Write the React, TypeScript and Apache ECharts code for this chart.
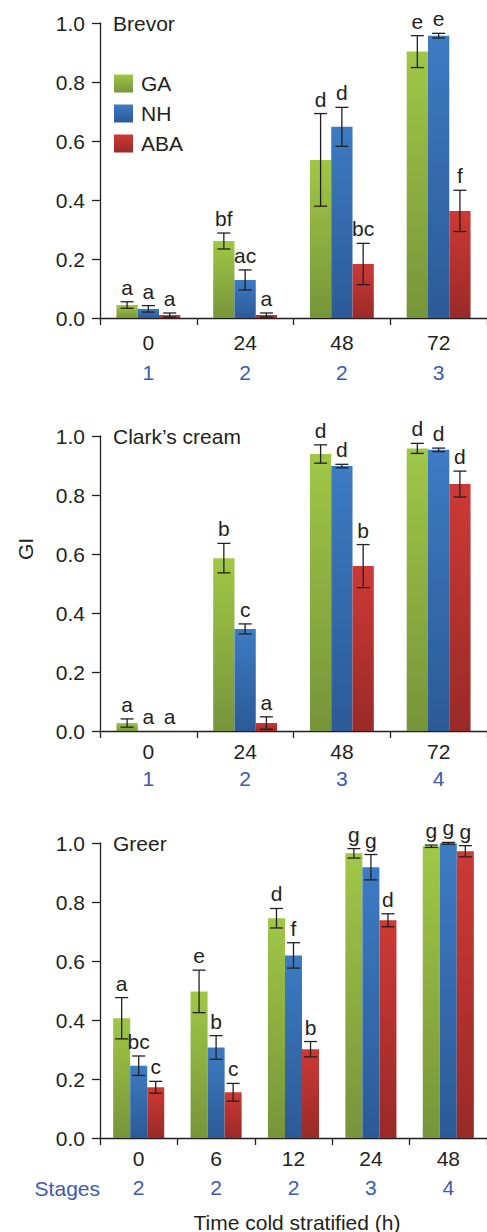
import React, { useEffect, useRef } from "react";
import * as echarts from "echarts";

// ---------- DATA ----------
const seriesNames = ["GA", "NH", "ABA"];

const brevorCats = ["0", "24", "48", "72"];
const brevorStages = ["1", "2", "2", "3"];
const brevorGA = [0.044, 0.261, 0.536, 0.903];
const brevorGAErr = [0.011, 0.027, 0.157, 0.054];
const brevorNH = [0.031, 0.129, 0.648, 0.957];
const brevorNHErr = [0.011, 0.034, 0.066, 0.008];
const brevorABA = [0.01, 0.01, 0.183, 0.363];
const brevorABAErr = [0.007, 0.007, 0.07, 0.07];
const brevorLetters = [
  ["a", "bf", "d", "e"],
  ["a", "ac", "d", "e"],
  ["a", "a", "bc", "f"],
];

const clarkCats = ["0", "24", "48", "72"];
const clarkStages = ["1", "2", "3", "4"];
const clarkGA = [0.027, 0.586, 0.939, 0.958];
const clarkGAErr = [0.014, 0.05, 0.031, 0.017];
const clarkNH = [0, 0.346, 0.898, 0.953];
const clarkNHErr = [0, 0.017, 0.006, 0.006];
const clarkABA = [0, 0.027, 0.559, 0.837];
const clarkABAErr = [0, 0.021, 0.073, 0.044];
const clarkLetters = [
  ["a", "b", "d", "d"],
  ["a", "c", "d", "d"],
  ["a", "a", "b", "d"],
];

const greerCats = ["0", "6", "12", "24", "48"];
const greerStages = ["2", "2", "2", "3", "4"];
const greerGA = [0.406, 0.497, 0.745, 0.965, 0.989];
const greerGAErr = [0.07, 0.072, 0.033, 0.016, 0.004];
const greerNH = [0.245, 0.307, 0.619, 0.918, 0.999];
const greerNHErr = [0.033, 0.04, 0.043, 0.043, 0.003];
const greerABA = [0.172, 0.155, 0.301, 0.738, 0.972];
const greerABAErr = [0.02, 0.03, 0.026, 0.022, 0.019];
const greerLetters = [
  ["a", "e", "d", "g", "g"],
  ["bc", "b", "f", "g", "g"],
  ["c", "c", "b", "d", "g"],
];

// ---------- STYLE ----------
const FONT = "Liberation Sans, Arial, Helvetica, sans-serif";
const FS = 21;
const DARK = "#231f20";
const STAGE_BLUE = "#3b5ab0";
const GAP = 0.34;
const gradients = [
  ["#a0c746", "#76953a"],
  ["#3d7bc3", "#2c5a97"],
  ["#cd3a35", "#992a28"],
];
const grad = (c: string[]) =>
  new echarts.graphic.LinearGradient(0, 0, 0, 1, [
    { offset: 0, color: c[0] },
    { offset: 1, color: c[1] },
  ]);

type Panel = {
  title: string;
  cats: string[];
  stages: string[];
  vals: number[][];
  errs: number[][];
  letters: string[][];
  top: number;
  labelMargin: number;
  labelLH: number;
};

const panels: Panel[] = [
  {
    title: "Brevor",
    cats: brevorCats,
    stages: brevorStages,
    vals: [brevorGA, brevorNH, brevorABA],
    errs: [brevorGAErr, brevorNHErr, brevorABAErr],
    letters: brevorLetters,
    top: 23,
    labelMargin: 9,
    labelLH: 30,
  },
  {
    title: "Clark\u2019s cream",
    cats: clarkCats,
    stages: clarkStages,
    vals: [clarkGA, clarkNH, clarkABA],
    errs: [clarkGAErr, clarkNHErr, clarkABAErr],
    letters: clarkLetters,
    top: 436,
    labelMargin: 7,
    labelLH: 27,
  },
  {
    title: "Greer",
    cats: greerCats,
    stages: greerStages,
    vals: [greerGA, greerNH, greerABA],
    errs: [greerGAErr, greerNHErr, greerABAErr],
    letters: greerLetters,
    top: 843,
    labelMargin: 6,
    labelLH: 29,
  },
];

const GRID_LEFT = 100;
const GRID_H = 295;
const GRID_W = 393.3;

function buildOption() {
  const grid: any[] = [];
  const xAxis: any[] = [];
  const yAxis: any[] = [];
  const series: any[] = [];
  const graphic: any[] = [];

  panels.forEach((p, pi) => {
    grid.push({ left: GRID_LEFT, top: p.top, width: GRID_W, height: GRID_H });
    xAxis.push({
      type: "category",
      gridIndex: pi,
      data: p.cats,
      axisLine: { lineStyle: { color: DARK, width: 1.3 } },
      axisTick: { show: true, length: 7, lineStyle: { color: DARK, width: 1.3 } },
      axisLabel: {
        margin: p.labelMargin,
        formatter: (v: string, i: number) => `{a|${v}}\n{b|${p.stages[i]}}`,
        rich: {
          a: { fontSize: FS, fontFamily: FONT, color: DARK, lineHeight: p.labelLH },
          b: { fontSize: FS, fontFamily: FONT, color: STAGE_BLUE, lineHeight: p.labelLH },
        },
      },
      splitLine: { show: false },
    });
    yAxis.push({
      type: "value",
      gridIndex: pi,
      min: 0,
      max: 1,
      interval: 0.2,
      axisLine: { show: true, lineStyle: { color: DARK, width: 1.3 } },
      axisTick: { show: true, length: 8, lineStyle: { color: DARK, width: 1.3 } },
      axisLabel: {
        margin: 15,
        fontSize: FS,
        fontFamily: FONT,
        color: DARK,
        formatter: (v: number) => v.toFixed(1),
      },
      splitLine: { show: false },
    });

    seriesNames.forEach((name, si) => {
      series.push({
        name,
        type: "bar",
        xAxisIndex: pi,
        yAxisIndex: pi,
        data: p.vals[si],
        barGap: "0%",
        barCategoryGap: GAP * 100 + "%",
        itemStyle: { color: grad(gradients[si]) },
        z: 2,
      });
      series.push({
        type: "custom",
        xAxisIndex: pi,
        yAxisIndex: pi,
        z: 5,
        silent: true,
        data: p.vals[si].map((v, i) => [i, v, p.errs[si][i]]),
        renderItem: (params: any, api: any) => {
          const ci = api.value(0);
          const v = api.value(1);
          const e = api.value(2);
          const band = api.size([1, 0])[0];
          const bw = (band * (1 - GAP)) / 3;
          const cx = api.coord([ci, 0])[0] + (si - 1) * bw;
          const yTop = api.coord([ci, v + e])[1];
          const yBot = api.coord([ci, Math.max(v - e, 0)])[1];
          const children: any[] = [];
          const ls = { stroke: DARK, lineWidth: 1.3 };
          if (e > 0) {
            children.push(
              { type: "line", shape: { x1: cx, y1: yTop, x2: cx, y2: yBot }, style: ls },
              { type: "line", shape: { x1: cx - 6.5, y1: yTop, x2: cx + 6.5, y2: yTop }, style: ls },
              { type: "line", shape: { x1: cx - 6.5, y1: yBot, x2: cx + 6.5, y2: yBot }, style: ls }
            );
          }
          children.push({
            type: "text",
            x: cx,
            y: yTop - 4,
            style: {
              text: p.letters[si][params.dataIndex],
              fontSize: FS,
              fontFamily: FONT,
              fill: DARK,
              align: "center",
              verticalAlign: "bottom",
            },
          });
          return { type: "group", children };
        },
      });
    });

    graphic.push({
      type: "text",
      x: 113,
      y: p.top,
      style: {
        text: p.title,
        fontSize: FS,
        fontFamily: FONT,
        fill: DARK,
        verticalAlign: "middle",
      },
    });
  });

  graphic.push(
    {
      type: "text",
      x: 25,
      y: 549,
      rotation: Math.PI / 2,
      style: {
        text: "GI",
        fontSize: FS,
        fontFamily: FONT,
        fill: DARK,
        align: "center",
        verticalAlign: "middle",
      },
    },
    {
      type: "text",
      x: 100,
      y: 1188,
      style: {
        text: "Stages",
        fontSize: FS,
        fontFamily: FONT,
        fill: STAGE_BLUE,
        align: "right",
        verticalAlign: "middle",
      },
    },
    {
      type: "text",
      x: 297,
      y: 1222,
      style: {
        text: "Time cold stratified (h)",
        fontSize: FS,
        fontFamily: FONT,
        fill: DARK,
        align: "center",
        verticalAlign: "middle",
      },
    }
  );

  return {
    animation: false,
    backgroundColor: "#ffffff",
    grid,
    xAxis,
    yAxis,
    series,
    graphic,
    legend: {
      data: seriesNames,
      orient: "vertical",
      left: 114,
      top: 73,
      padding: 0,
      itemWidth: 19,
      itemHeight: 18,
      itemGap: 9,
      icon: "rect",
      textStyle: { fontSize: FS, fontFamily: FONT, color: DARK, lineHeight: 20, padding: [0, 0, 0, 3] },
      selectedMode: false,
    },
  };
}

export default function App() {
  const ref = useRef<HTMLDivElement>(null);
  useEffect(() => {
    document.body.style.margin = "0";
    if (!ref.current) return;
    const chart = echarts.init(ref.current, undefined, { renderer: "svg" });
    chart.setOption(buildOption() as any);
    return () => chart.dispose();
  }, []);
  return <div ref={ref} style={{ width: 487, height: 1232 }} />;
}
